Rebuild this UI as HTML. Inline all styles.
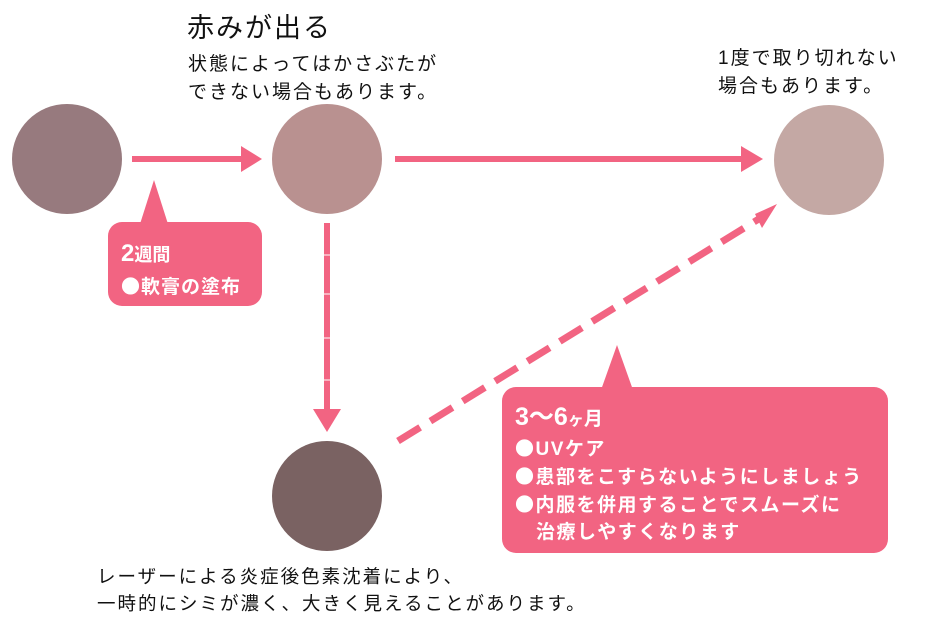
<!DOCTYPE html>
<html><head><meta charset="utf-8"><style>
html,body{margin:0;padding:0;background:#fff;}
svg{display:block;}
text{font-family:"Liberation Sans","Noto Sans CJK JP",sans-serif;}
.b{font-family:"Noto Sans CJK JP",sans-serif;}
</style></head><body>
<svg width="936" height="632" viewBox="0 0 936 632" xmlns="http://www.w3.org/2000/svg">
<circle cx="67" cy="159" r="55" fill="#977a7e"/>
<circle cx="327" cy="159" r="55" fill="#b99190"/>
<circle cx="829" cy="160" r="55" fill="#c4a8a4"/>
<circle cx="327" cy="496" r="55" fill="#7a6262"/>
<g fill="#f26482" stroke="none">
<rect x="132" y="156" width="112" height="6"/>
<polygon points="241,146 262,159 241,172"/>
<rect x="395" y="156" width="350" height="6"/>
<polygon points="741,146 763,159 741,172"/>
<rect x="324" y="223" width="6" height="188"/>
<polygon points="313,409 341,409 327,432"/>
<polygon points="755,214 777,204 762,228"/>
<path d="M154,180 L168,224 L140,224 Z"/>
<rect x="108" y="222" width="154" height="84" rx="14"/>
<path d="M617,345 L633,390 L601,390 Z"/>
<rect x="502" y="387" width="386" height="166" rx="14"/>
</g>
<line x1="398" y1="441" x2="762" y2="217" stroke="#f26482" stroke-width="7" stroke-dasharray="26,12"/>
<g fill="#fff" stroke="#fff" stroke-width="1">
<line x1="322" y1="255" x2="332" y2="255"/>
<line x1="322" y1="294" x2="332" y2="294"/>
<line x1="322" y1="338" x2="332" y2="338"/>
<line x1="322" y1="380" x2="332" y2="380"/>
</g>
<text x="187" y="37" font-size="27" fill="#111" letter-spacing="2">赤みが出る</text>
<text x="188" y="70" font-size="19" fill="#111" letter-spacing="2">状態によってはかさぶたが</text>
<text x="188" y="98" font-size="19" fill="#111" letter-spacing="2">できない場合もあります。</text>
<text x="718" y="64" font-size="19" fill="#111" letter-spacing="2">1度で取り切れない</text>
<text x="718" y="92" font-size="19" fill="#111" letter-spacing="2">場合もあります。</text>
<text x="97" y="583" font-size="18.5" fill="#111" letter-spacing="2">レーザーによる炎症後色素沈着により、</text>
<text x="97" y="610" font-size="18.5" fill="#111" letter-spacing="2">一時的にシミが濃く、大きく見えることがあります。</text>
<g fill="#fff" font-weight="bold">
<text x="121" y="261" font-size="24">2<tspan font-size="18">週間</tspan></text>
<text x="121" y="293" font-size="19" letter-spacing="1"><tspan class="b">●</tspan>軟膏の塗布</text>
<text x="515" y="425" font-size="25">3〜6<tspan font-size="16">ヶ</tspan><tspan font-size="19">月</tspan></text>
<text x="515" y="455" font-size="19" letter-spacing="1.5"><tspan class="b">●</tspan>UVケア</text>
<text x="515" y="483" font-size="19" letter-spacing="1.5"><tspan class="b">●</tspan>患部をこすらないようにしましょう</text>
<text x="515" y="511" font-size="19" letter-spacing="1.5"><tspan class="b">●</tspan>内服を併用することでスムーズに</text>
<text x="536" y="538" font-size="19" letter-spacing="1.5">治療しやすくなります</text>
</g>
</svg>
</body></html>
